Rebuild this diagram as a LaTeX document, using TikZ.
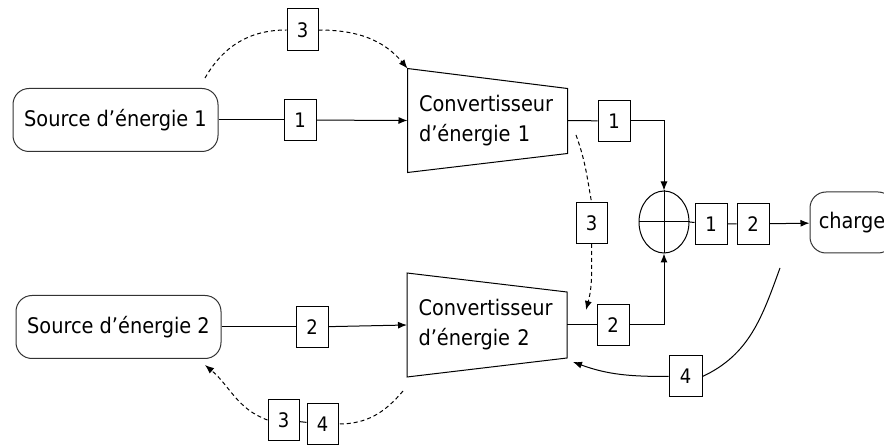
\documentclass[tikz,border=0pt]{standalone}
\usepackage{fontspec}
\setmainfont{DejaVu Sans Condensed}
\usetikzlibrary{arrows.meta,shapes.geometric}

\begin{document}
\begin{tikzpicture}[x=1pt, y=-1pt, line width=1pt,
                    every node/.style = {font=\fontsize{21.5}{30}\selectfont,
                    align=left},
                    source/.style={draw=black!80, rounded corners=16pt,
                    minimum width=205pt, minimum height=63pt},
                    conv/.style={minimum width=159pt, minimum height=103pt,
                    inner sep=0pt, text width=137pt},
                    num/.style={draw, fill=white, inner sep=0pt,
                    font=\fontsize{20}{22}\selectfont,
                    minimum width=32pt, minimum height=41pt},
                    flow/.style={-{Latex[length=9pt,width=7pt]}},
                    info/.style={dash pattern=on 4pt off 3pt}]
  \useasboundingbox (0,0) rectangle (884,446);
  \clip (0,0) rectangle (884,446);
  % sources and converters
  \node[source] (s1) at (115.5,120) {Source d’énergie 1};
  \node[source] (s2) at (118.5,327) {Source d’énergie 2};
  \node[conv] (c1) at (487.5,120.5) {Convertisseur\\d’énergie 1};
  \node[conv] (c2) at (487,325) {Convertisseur\\d’énergie 2};
  \draw (c1.north west) -- ([yshift=-20pt]c1.north east)
    -- ([yshift=19pt]c1.south east) -- (c1.south west) -- cycle;
  \draw (c2.north west) -- ([yshift=-19pt]c2.north east)
    -- ([yshift=19pt]c2.south east) -- (c2.south west) -- cycle;
  % summing point and load
  \node[draw, ellipse, minimum width=50pt, minimum height=62pt,
        inner sep=0pt] (sum) at (664,222) {};
  \draw (sum.north) -- (sum.south) (sum.west) -- (sum.east);
  \node[source, minimum width=84pt, minimum height=61pt] (ch) at (852,222.5) {charge};
  % labels
  \node[num] (b11) at (300,120) {1};
  \node[num] (b21) at (312,327) {2};
  \node[num] (b12) at (614,121) {1};
  \node[num] (b22) at (613,325) {2};
  \node[num] (bs1) at (711,224) {1};
  \node[num] (bs2) at (753,224) {2};
  \node[num, minimum width=31pt, minimum height=42pt] (b3t) at (302.5,30) {3};
  \node[num, minimum width=31pt] (b3m) at (591.5,223) {3};
  \node[num, minimum width=31pt] (b3b) at (283.5,420) {3};
  \node[num, minimum width=31pt] (b4b) at (322.5,424) {4};
  \node[num, minimum width=33pt] (b4) at (685.5,376.5) {4};
  % free ends of the curves
  \coordinate (t1) at (205,78);
  \coordinate (m1) at (576,135);
  \coordinate (m2) at (586,310);
  \coordinate (d1) at (403,391);
  \coordinate (d2) at (205,365);
  \coordinate (f1) at (780,268);
  \coordinate (f2) at (573,362);
  % power flows
  \draw (s1) -- (b11);
  \draw[flow] (b11) -- (c1.west);
  \draw (s2) -- (b21);
  \draw[flow] (b21) -- (c2.west);
  \draw (c1.east) -- (b12);
  \draw[flow] (b12) -| (sum.north);
  \draw (c2.east) -- (b22);
  \draw[flow] (b22) -| (sum.south);
  \draw (sum.east) -- (bs1) -- (bs2);
  \draw[flow] (bs2) -- (ch);
  % information flows
  \draw[info] (t1) to[out=60, in=180] (b3t.west);
  \draw[info, flow] (b3t.east) to[out=0, in=130] (c1.north west);
  \draw[info] (m1) to[out=-70, in=100] (b3m.north);
  \draw[info, flow] (b3m.south) to[out=-90, in=75] (m2);
  \draw[info] (d1) to[out=-130, in=0] (b4b.east);
  \draw (b4b) -- (b3b);
  \draw[info, flow] (b3b.west) to[out=160, in=-40] (d2);
  \draw (f1) to[out=-110, in=25] (b4.east);
  \draw[flow] (b4.west) to[out=180, in=-20] (f2);
\end{tikzpicture}
\end{document}
